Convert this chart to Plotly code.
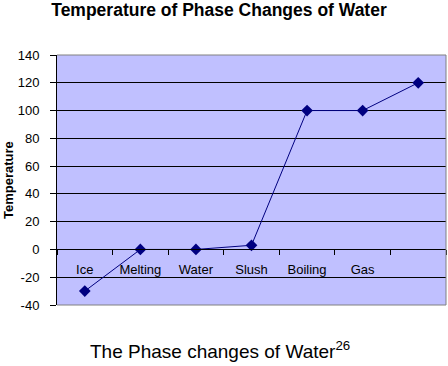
import plotly.graph_objects as go

categories = ["Ice", "Melting", "Water", "Slush", "Boiling", "Gas", " "]
temperature = [-30, 0, 0, 3, 100, 100, 120]
y_ticks = [-40, -20, 0, 20, 40, 60, 80, 100, 120, 140]
y_tick_text = [str(v) for v in y_ticks]

FONT = "Arial, 'Liberation Sans', sans-serif"
NAVY = "#000080"

L, R, T, B = 57, 2, 55, 61
W, H = 448, 366
PW = W - L - R
PH = H - T - B

fig = go.Figure()
fig.add_trace(go.Scatter(
    x=categories, y=temperature, mode="lines+markers",
    line=dict(color=NAVY, width=1),
    marker=dict(symbol="diamond", size=9, color=NAVY),
    showlegend=False,
))

fig.update_layout(
    width=W, height=H,
    margin=dict(l=L, r=R, t=T, b=B, autoexpand=False),
    paper_bgcolor="white",
    plot_bgcolor="#C0C0FF",
    font=dict(family=FONT, size=13, color="black"),
    title=dict(text="<b>Temperature of Phase Changes of Water</b>",
               x=219 / W, xanchor="center", xref="container",
               y=1 - 10 / H, yanchor="middle", yref="container", automargin=False,
               font=dict(size=17.5, family=FONT, color="black")),
    xaxis=dict(type="category", categoryorder="array", categoryarray=categories,
               range=[-0.5, 6.5], anchor="free", position=40 / 180,
               showline=True, linecolor="black", linewidth=1,
               ticks="outside", ticklen=5, tickcolor="black", tickson="boundaries",
               showgrid=False, ticklabelstandoff=8, automargin=False,
               tickfont=dict(size=13, family=FONT, color="black")),
    yaxis=dict(range=[-40, 140], tickvals=y_ticks, ticktext=y_tick_text,
               showgrid=True, gridcolor="black",
               gridwidth=1, zeroline=False, showline=True, linecolor="black",
               ticks="outside", ticklen=6, tickcolor="black", ticklabelstandoff=8,
               automargin=False,
               tickfont=dict(size=13, family=FONT, color="black")),
    annotations=[
        dict(text="<b>Temperature</b>", xref="paper", yref="paper",
             x=-(L - 8) / PW, y=0.5, xanchor="center", yanchor="middle",
             textangle=-90, showarrow=False,
             font=dict(size=13, family=FONT, color="black")),
        dict(text="The Phase changes of Water<sup>26</sup>", xref="paper", yref="paper",
             x=(220 - L) / PW, y=-(350 - (H - B)) / PH, xanchor="center", yanchor="middle",
             showarrow=False,
             font=dict(size=19, family=FONT, color="black")),
    ],
    shapes=[
        dict(type="line", xref="paper", yref="paper", x0=0, x1=1, y0=1, y1=1,
             line=dict(color="#808080", width=1), layer="above"),
        dict(type="line", xref="paper", yref="paper", x0=1, x1=1, y0=0, y1=1,
             line=dict(color="#808080", width=1), layer="above"),
        dict(type="line", xref="paper", yref="paper", x0=0, x1=1, y0=0, y1=0,
             line=dict(color="#808080", width=1), layer="above"),
    ],
)

fig.write_html("out.html", config={"displayModeBar": False},
               post_script="document.body.style.margin='0';document.body.style.overflow='hidden';")
